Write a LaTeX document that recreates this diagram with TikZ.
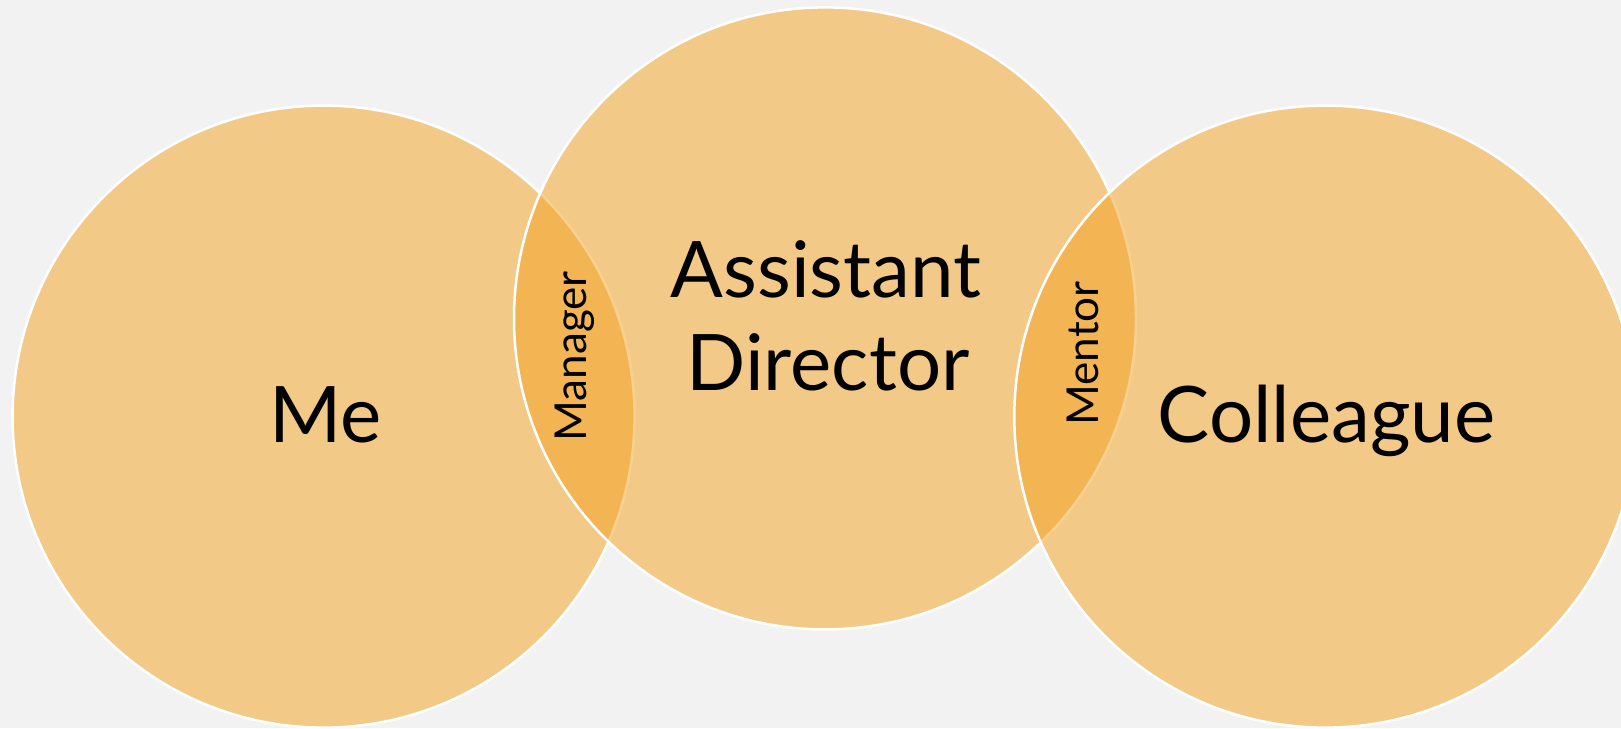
\documentclass[tikz,border=0pt]{standalone}
\usepackage{fontspec}
\setmainfont{Lato}
\begin{document}
\begin{tikzpicture}[x=1pt,y=1pt]
\definecolor{bg}{RGB}{242,242,242}
\definecolor{petal}{RGB}{244,162,32}
\tikzset{
  venn/.style={circle, minimum size=622pt, inner sep=0pt, fill=petal, fill opacity=0.5, draw=white, line width=2.5pt},
  big/.style={font=\fontsize{78}{90}\selectfont, text=black, anchor=base, inner sep=0pt},
  small/.style={font=\fontsize{44}{52}\selectfont, text=black, anchor=base, rotate=90, inner sep=0pt}
}
\useasboundingbox (0,0) rectangle (1621,728);
\fill[bg] (0,0) rectangle (1621,728);
\clip (0,0) rectangle (1621,728);
\node[venn] (me) at (323.6,311.4) {};
\node[venn] (ad) at (825,409.6) {};
\node[venn] (co) at (1325.3,311.4) {};
\node[big] (meT) at (325.6,285.5) {Me};
\node[big] (asT) at (826,430.3) {Assistant};
\node[big] (diT) at (828,337.2) {Director};
\node[big] (coT) at (1326.4,285.5) {Colleague};
\node[small] (maT) at (586.7,371.7) {Manager};
\node[small] (meN) at (1098.3,374.6) {Mentor};
\end{tikzpicture}
\end{document}
